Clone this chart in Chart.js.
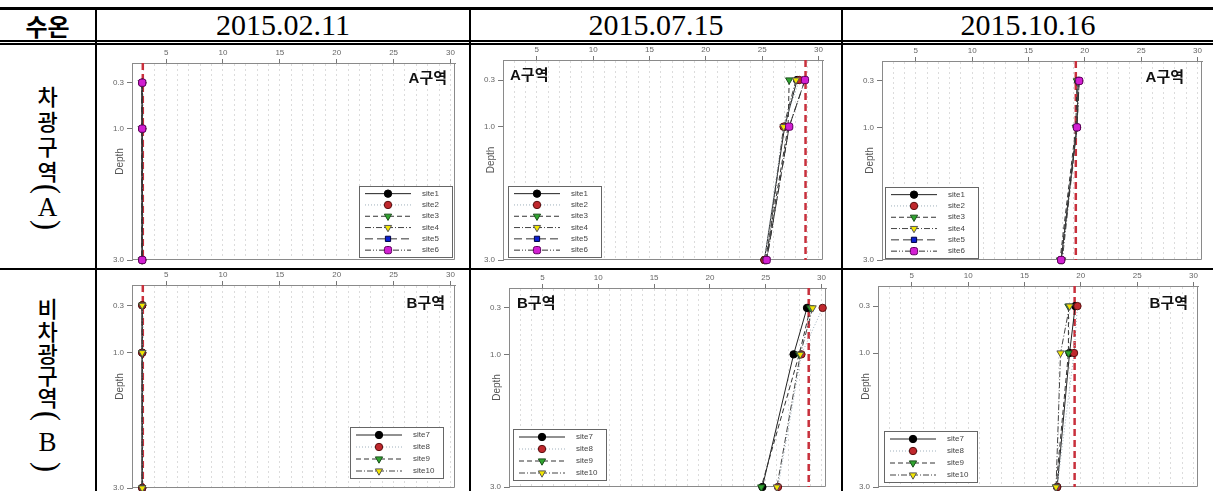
<!DOCTYPE html>
<html>
<head>
<meta charset="utf-8">
<script src="https://cdn.jsdelivr.net/npm/chart.js@4.4.1/dist/chart.umd.min.js"></script>
<style>
  html, body { margin: 0; padding: 0; background: #fff; }
  body { width: 1213px; height: 491px; position: relative; overflow: hidden; }
  .rule { position: absolute; background: #000; }
  .hcell { position: absolute; top: 10px; height: 30px; display: flex; align-items: center; justify-content: center; }
  .hcell.ko { font-family: "Noto Sans CJK KR", sans-serif; font-weight: 700; font-size: 24px; }
  .hcell.date { font-family: "Liberation Serif", serif; font-size: 30px; }
  .vch { position: absolute; left: 0; width: 95px; display: flex; align-items: center; justify-content: center; line-height: 1; }
  .vch.ko { font-family: "Noto Sans CJK KR", sans-serif; font-weight: 500; font-size: 22px; }
  .vch.lat { font-family: "Liberation Serif", serif; font-size: 27px; }
  .vch.par { font-family: "Liberation Serif", serif; font-size: 30px; }
  .vch.par span { display: block; transform: rotate(90deg) scaleY(1.1); transform-origin: 50% 50%; }
  canvas { position: absolute; }
</style>
</head>
<body>
<script>
// ---- data -------------------------------------------------------------
const depths = [0.3, 1.0, 3.0];                 // sampling depth (m)
const depthLabels = ['0.3', '1.0', '3.0'];
const tempTicks = [5, 10, 15, 20, 25, 30];      // labelled temperature ticks
const surveyDates = ['2015.02.11', '2015.07.15', '2015.10.16'];
const headerTitle = '수온';
const rowTitles = ['차광구역(A)', '비차광구역(B)'];
const zoneNames = ['A구역', 'B구역'];
const sitesA = ['site1', 'site2', 'site3', 'site4', 'site5', 'site6'];
const sitesB = ['site7', 'site8', 'site9', 'site10'];

// water temperature per site at 0.3 / 1.0 / 3.0 m
const zoneA_0211 = [[2.9, 2.9, 2.9], [2.9, 2.9, 2.9], [2.85, 2.85, 2.85], [2.9, 2.9, 2.9], [2.9, 2.9, 2.9], [2.9, 2.9, 2.9]];
const zoneA_0715 = [[28.1, 27.0, 25.2], [28.3, 26.9, 25.2], [27.4, 27.3, 25.3], [28.0, 26.9, 25.4], [28.8, 27.4, 25.4], [28.8, 27.4, 25.4]];
const zoneA_1016 = [[19.4, 19.3, 17.9], [19.5, 19.3, 17.9], [19.3, 19.2, 17.8], [19.4, 19.3, 18.0], [19.5, 19.3, 17.9], [19.5, 19.3, 17.9]];
const zoneB_0211 = [[2.9, 2.9, 2.9], [2.9, 2.9, 2.9], [2.9, 2.9, 2.9], [2.9, 2.9, 2.9]];
const zoneB_0715 = [[28.7, 27.5, 24.7], [30.1, 28.2, 26.1], [29.0, 28.0, 24.6], [29.2, 28.1, 26.0]];
const zoneB_1016 = [[19.5, 19.0, 17.9], [19.7, 19.4, 17.9], [18.9, 18.9, 17.8], [19.0, 18.2, 17.8]];

// zone mean temperature (red dashed reference line)
const meanA = [2.95, 28.85, 19.2];
const meanB = [2.95, 28.85, 19.45];

// ---- styles -----------------------------------------------------------
const siteStyles = [
  { fill: '#000000', edge: '#000000', point: 'circle',      rot: 0,   r: 3.7, line: '#222222', dash: [] },
  { fill: '#c0282d', edge: '#5a1010', point: 'circle',      rot: 0,   r: 3.7, line: '#9fb0bc', dash: [1, 2] },
  { fill: '#2fa52f', edge: '#1c4f1c', point: 'triangle',    rot: 180, r: 4.2, line: '#333333', dash: [5, 3] },
  { fill: '#f2e600', edge: '#555555', point: 'triangle',    rot: 180, r: 4.2, line: '#444444', dash: [6, 2, 1, 2] },
  { fill: '#0a1fd0', edge: '#000044', point: 'rect',        rot: 0,   r: 3.7, line: '#333333', dash: [8, 4] },
  { fill: '#d21fd2', edge: '#5e005e', point: 'rectRounded', rot: 0,   r: 4.2, line: '#333333', dash: [6, 2, 1, 2, 1, 2] }
];

const panels = [
  { series: zoneA_0211, sites: sitesA, mean: meanA[0], zone: 0, frame: [132, 63, 455, 260], legend: { corner: 'br', dx: 3, dy: 3 },  label: { corner: 'tr', dx: 8,  dy: 10 } },
  { series: zoneA_0715, sites: sitesA, mean: meanA[1], zone: 0, frame: [503, 60, 823, 260], legend: { corner: 'bl', dx: 5, dy: 3 },  label: { corner: 'tl', dx: 7,  dy: 10 } },
  { series: zoneA_1016, sites: sitesA, mean: meanA[2], zone: 0, frame: [882, 61, 1202, 260], legend: { corner: 'bl', dx: 3, dy: 2 }, label: { corner: 'tr', dx: 18, dy: 11 } },
  { series: zoneB_0211, sites: sitesB, mean: meanB[0], zone: 1, frame: [132, 285, 455, 488], legend: { corner: 'br', dx: 12, dy: 10 }, label: { corner: 'tr', dx: 10, dy: 13 } },
  { series: zoneB_0715, sites: sitesB, mean: meanB[1], zone: 1, frame: [509, 288, 826, 487], legend: { corner: 'bl', dx: 4, dy: 7 },  label: { corner: 'tl', dx: 8,  dy: 10 } },
  { series: zoneB_1016, sites: sitesB, mean: meanB[2], zone: 1, frame: [878, 286, 1198, 487], legend: { corner: 'bl', dx: 6, dy: 5 }, label: { corner: 'tr', dx: 10, dy: 12 } }
];

// ---- table --------------------------------------------------------------
function rule(l, t, w, h) {
  const d = document.createElement('div');
  d.className = 'rule';
  Object.assign(d.style, { left: l + 'px', top: t + 'px', width: w + 'px', height: h + 'px' });
  document.body.appendChild(d);
}
rule(0, 7, 1213, 3);
rule(0, 40, 1213, 2);
rule(0, 43, 1213, 2);
rule(0, 268, 1213, 2);
[95, 469, 841].forEach(x => rule(x, 10, 2, 481));

const colSpans = [[0, 95], [97, 469], [471, 841], [843, 1213]];
function headerCell(text, span, cls) {
  const d = document.createElement('div');
  d.className = 'hcell ' + cls;
  d.style.left = span[0] + 'px';
  d.style.width = (span[1] - span[0]) + 'px';
  d.textContent = text;
  document.body.appendChild(d);
}
headerCell(headerTitle, colSpans[0], 'ko');
surveyDates.forEach((t, i) => headerCell(t, colSpans[i + 1], 'date'));

// row titles stacked one character per line; brackets turned to lie flat
const rowCharCenters = [
  [95, 120, 145, 170, 189, 207, 225],
  [307, 330, 352, 374, 396, 416, 442, 467]
];
rowTitles.forEach((title, r) => {
  Array.from(title).forEach((ch, k) => {
    const d = document.createElement('div');
    const cy = rowCharCenters[r][k];
    const boxH = 30;
    if (ch === '(' || ch === ')') {
      d.className = 'vch par';
      const s = document.createElement('span');
      s.textContent = ch;
      d.appendChild(s);
    } else if (/[A-Z]/.test(ch)) {
      d.className = 'vch lat';
      d.textContent = ch;
    } else {
      d.className = 'vch ko';
      d.textContent = ch;
    }
    d.style.top = (cy - boxH / 2) + 'px';
    d.style.height = boxH + 'px';
    document.body.appendChild(d);
  });
});

// ---- charts -------------------------------------------------------------
const AXIS_GREY = '#8a8a8a';
const TICK_FONT = { family: 'Liberation Sans', size: 8 };
const Y_AXIS_W = 40, X_AXIS_H = 22, PAD_R = 8, PAD_B = 8;

const framePlugin = {
  id: 'plotFrame',
  beforeDatasetsDraw(chart) {
    const { ctx, chartArea: a } = chart;
    ctx.save();
    ctx.strokeStyle = AXIS_GREY;
    ctx.lineWidth = 1;
    ctx.beginPath();
    ctx.moveTo(a.right - 0.5, a.top);
    ctx.lineTo(a.right - 0.5, a.bottom - 0.5);
    ctx.lineTo(a.left, a.bottom - 0.5);
    ctx.stroke();
    ctx.restore();
  }
};

const annotatePlugin = {
  id: 'panelText',
  afterDraw(chart, args, opts) {
    const { ctx, chartArea: a } = chart;
    ctx.save();
    // axis title
    ctx.translate(a.left - 12, (a.top + a.bottom) / 2);
    ctx.rotate(-Math.PI / 2);
    ctx.fillStyle = '#555';
    ctx.font = '10px "Liberation Sans"';
    ctx.textAlign = 'center';
    ctx.textBaseline = 'middle';
    ctx.fillText('Depth', 0, 0);
    ctx.restore();

    // zone name
    ctx.save();
    ctx.font = 'bold 15px "Liberation Sans", "Noto Sans CJK KR"';
    ctx.fillStyle = '#111';
    ctx.textBaseline = 'top';
    const w = ctx.measureText(opts.text).width;
    const x = opts.corner === 'tl' ? a.left + opts.dx : a.right - opts.dx - w;
    ctx.fillText(opts.text, x, a.top + opts.dy - 2);
    ctx.restore();
  }
};

const legendPlugin = {
  id: 'insetLegend',
  afterDraw(chart, args, opts) {
    const { ctx, chartArea: a } = chart;
    const items = chart.data.datasets.filter(d => d.inLegend);
    const rowH = items.length > 4 ? 11.3 : 12;
    const w = 93, h = Math.round(items.length * rowH + 3);
    const left = Math.round(opts.corner === 'bl' ? a.left + opts.dx : a.right - opts.dx - w);
    const top = Math.round(a.bottom - opts.dy - h);
    ctx.save();
    ctx.fillStyle = '#fff';
    ctx.fillRect(left, top, w, h);
    ctx.strokeStyle = '#666';
    ctx.lineWidth = 1;
    ctx.strokeRect(left + 0.5, top + 0.5, w, h);
    items.forEach((d, i) => {
      const y = top + 2 + rowH * (i + 0.5);
      ctx.setLineDash(d.borderDash || []);
      ctx.strokeStyle = d.borderColor;
      ctx.lineWidth = 1;
      ctx.beginPath();
      ctx.moveTo(left + 6, y);
      ctx.lineTo(left + 52, y);
      ctx.stroke();
      ctx.setLineDash([]);
      ctx.fillStyle = d.pointBackgroundColor;
      ctx.strokeStyle = d.pointBorderColor;
      ctx.lineWidth = d.pointBorderWidth;
      Chart.helpers.drawPoint(ctx, {
        pointStyle: d.pointStyle, rotation: d.pointRotation,
        radius: d.pointRadius, borderWidth: d.pointBorderWidth
      }, left + 29, y);
      ctx.fillStyle = '#444';
      ctx.font = '8px "Liberation Sans"';
      ctx.textAlign = 'left';
      ctx.textBaseline = 'middle';
      ctx.fillText(d.label, left + 63, y);
    });
    ctx.restore();
  }
};

function buildChart(p) {
  const [fl, ft, fr, fb] = p.frame;
  const cv = document.createElement('canvas');
  const cw = (fr - fl) + Y_AXIS_W + PAD_R;
  const ch = (fb - ft) + X_AXIS_H + PAD_B;
  cv.width = cw; cv.height = ch;
  cv.style.left = (fl - Y_AXIS_W) + 'px';
  cv.style.top = (ft - X_AXIS_H) + 'px';
  cv.style.width = cw + 'px';
  cv.style.height = ch + 'px';
  document.body.appendChild(cv);

  const n = p.sites.length;
  const datasets = p.series.map((vals, i) => {
    const st = siteStyles[i];
    return {
      label: p.sites[i], inLegend: true,
      data: depths.map((d, k) => ({ x: vals[k], y: d })),
      showLine: true, tension: 0, clip: false,
      borderColor: st.line, borderWidth: 1, borderDash: st.dash,
      pointStyle: st.point, pointRotation: st.rot, pointRadius: st.r,
      pointBackgroundColor: st.fill, pointBorderColor: st.edge, pointBorderWidth: 1,
      order: n - i
    };
  });
  datasets.push({
    label: 'mean', inLegend: false,
    data: [{ x: p.mean, y: 0 }, { x: p.mean, y: 3 }],
    showLine: true, clip: false,
    borderColor: '#c8303c', borderWidth: 2.5, borderDash: [7, 4],
    pointRadius: 0, order: 50
  });

  new Chart(cv, {
    type: 'scatter',
    data: { datasets },
    options: {
      responsive: false, animation: false, devicePixelRatio: 1, events: [],
      layout: { padding: { left: 0, top: 0, right: PAD_R, bottom: PAD_B } },
      plugins: {
        legend: { display: false }, tooltip: { enabled: false },
        insetLegend: p.legend,
        panelText: Object.assign({ text: zoneNames[p.zone] }, p.label)
      },
      scales: {
        x: {
          type: 'linear', position: 'top', min: 2, max: 30.4,
          afterBuildTicks: s => { const t = []; for (let v = 2; v <= 30; v++) t.push({ value: v }); s.ticks = t; },
          afterFit: s => { s.height = X_AXIS_H; },
          ticks: {
            autoSkip: false, maxRotation: 0, minRotation: 0, padding: 1,
            font: TICK_FONT, color: '#666',
            callback: v => tempTicks.includes(v) ? String(v) : ''
          },
          grid: {
            color: c => (c.tick && c.tick.value > 2) ? '#dcdcdc' : 'rgba(0,0,0,0)',
            tickColor: c => (c.tick && tempTicks.includes(c.tick.value)) ? '#777' : 'rgba(0,0,0,0)',
            tickLength: 4, lineWidth: 1
          },
          border: { display: true, color: AXIS_GREY, width: 1, dash: [2, 3] }
        },
        y: {
          type: 'linear', reverse: true, min: 0, max: 3,
          afterBuildTicks: s => { s.ticks = depths.map(v => ({ value: v })); },
          afterFit: s => { s.width = Y_AXIS_W; },
          ticks: { autoSkip: false, padding: 3, font: TICK_FONT, color: '#666', callback: (v, i) => depthLabels[i] },
          grid: { drawOnChartArea: false, drawTicks: true, tickLength: 5, tickColor: '#777' },
          border: { display: true, color: AXIS_GREY, width: 1 }
        }
      }
    },
    plugins: [framePlugin, annotatePlugin, legendPlugin]
  });
}

panels.forEach(buildChart);
</script>
</body>
</html>
